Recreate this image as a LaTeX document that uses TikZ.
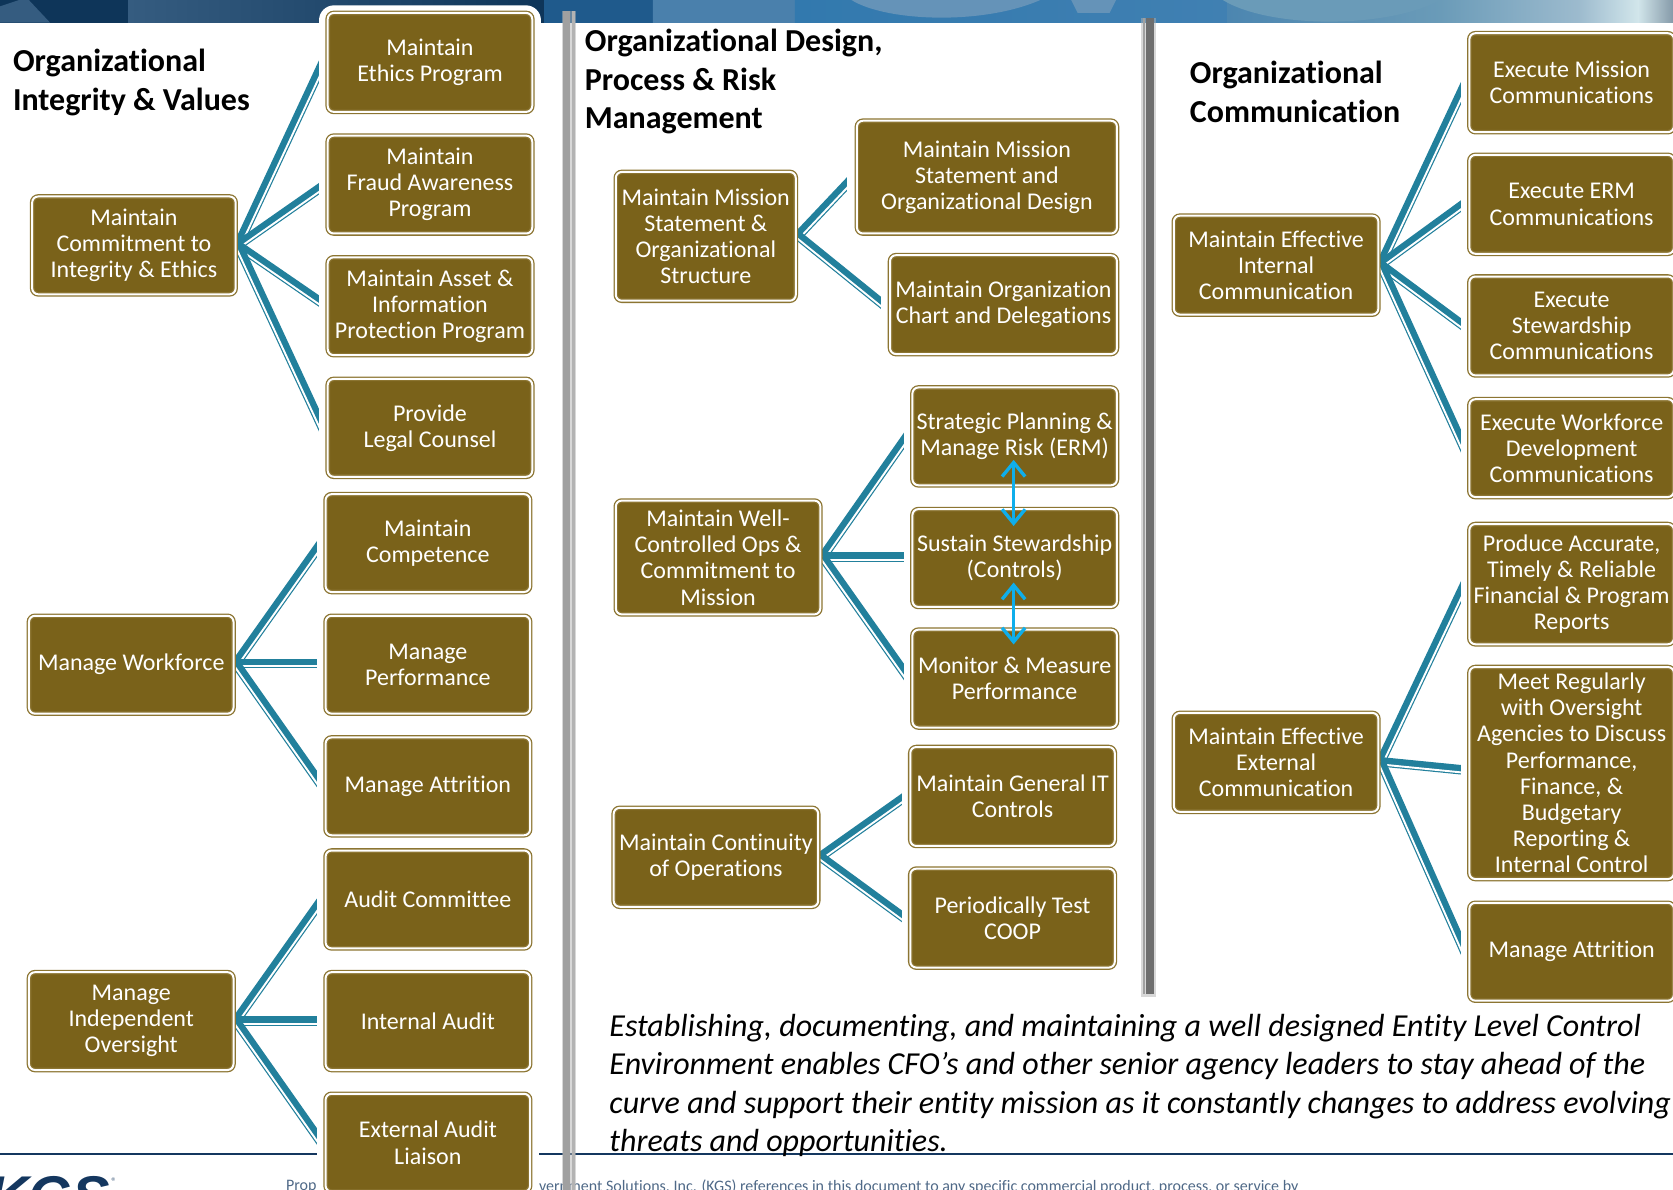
\documentclass[tikz,border=0pt]{standalone}
\usepackage{fontspec}
\setmainfont[Ligatures=NoCommon]{Carlito}
\newfontfamily\logofont{Liberation Sans}
\usetikzlibrary{calc,arrows.meta,shadows}
\definecolor{boxfill}{HTML}{7A621A}
\definecolor{boxedge}{HTML}{8C7532}
\definecolor{linkteal}{HTML}{22809C}
\definecolor{arrowblue}{HTML}{0FAEEB}
\definecolor{footnavy}{HTML}{14375F}
\definecolor{barlight}{HTML}{A0A0A0}
\definecolor{bardark}{HTML}{6E6E6E}
\tikzset{
  x=1.067pt,y=-1.067pt,
  boxnode/.style={draw=boxedge,fill=boxfill,line width=1.3pt,double=white,double distance=2pt,
    rounded corners=6pt,text=white,align=center,inner sep=0pt,
    font=\fontsize{24}{26.2}\selectfont},
  titletext/.style={anchor=north west,align=left,inner sep=0pt,font=\fontsize{32}{38.6}\selectfont\bfseries},
  linkthick/.style={draw=linkteal,line width=9.5pt},
  linkgap/.style={draw=white,line width=1.9pt},
  biarrow/.style={draw=arrowblue,line width=3pt,{Straight Barb[length=14pt,width=23pt,line width=3.4pt]}-{Straight Barb[length=14pt,width=23pt,line width=3.4pt]}},
  maskrect/.style={fill=white,draw=none},
}
\newcommand{\bx}[6]{\node[boxnode,minimum width={(#4-#2)*1.067pt-4.6pt},minimum height={(#5-#3)*1.067pt-4.6pt}] (#1) at ({(#2+#4)/2},{(#3+#5)/2}) {#6};}
\newcommand{\lnk}[4]{%
  \coordinate (#2) at (#3,#4);
  \draw[linkthick] (#1) -- (#2);
  \draw[linkgap] ($(#1)!2.6pt!-90:(#2)$) -- ($(#2)!2.6pt!90:(#1)$);}
\newcommand{\hseg}[4]{\shade[left color=#3,right color=#4,draw=none] (#1,0) rectangle (#2+0.5,21.3);}
\begin{document}
\begin{tikzpicture}
\clip (0,0) rectangle (1568,1114.4);
% header band
\fill[white] (0,0) rectangle (1568,1114.4);
\definecolor{hA}{HTML}{0E3559}\definecolor{hB}{HTML}{355C80}\definecolor{hC}{HTML}{1F5A8C}
\definecolor{hD}{HTML}{4A80AC}\definecolor{hE}{HTML}{3279AE}\definecolor{hF}{HTML}{4080B2}
\definecolor{hG}{HTML}{4C86B0}\definecolor{hH}{HTML}{6A9BB8}\definecolor{hI}{HTML}{9DBBCE}
\definecolor{hJ}{HTML}{D2E6EB}\definecolor{hK}{HTML}{8499A8}
\hseg{0}{120}{hA}{hA}
\hseg{120}{510}{hB}{hA}
\hseg{510}{612}{hC}{hC}
\hseg{612}{745}{hD}{hD}
\hseg{745}{1150}{hE}{hF}
\hseg{1150}{1350}{hG}{hH}
\hseg{1350}{1480}{hH}{hI}
\hseg{1480}{1535}{hI}{hJ}
\hseg{1535}{1568}{hJ}{hK}
\fill[hB] (0,6) -- (18,0) -- (27,0) -- (47,21.3) -- (0,21.3) -- cycle;
\fill[hD!85!white] (798,0) .. controls (830,20) and (920,24) .. (975,0) -- cycle;
\fill[hD!85!white] (1004,0) -- (1046,0) -- (1040,12) -- (1010,12) -- cycle;
\fill[hH] (1146,0) .. controls (1190,27) and (1300,27) .. (1350,0) -- cycle;
% footer
\node[anchor=west,inner sep=0pt,text=footnavy!75!white,font=\fontsize{16}{18}\selectfont] (fa) at (268,1112) {Prop};
\node[anchor=west,inner sep=0pt,text=footnavy!75!white,font=\fontsize{16}{18}\selectfont] (fb) at (505,1112) {vernment Solutions, Inc. (KGS) references in this document to any specific commercial product, process, or service by};
\node[anchor=base east,inner sep=0pt,text=footnavy,font=\logofont\fontsize{56}{56}\selectfont\bfseries\itshape] (logo) at (103,1139) {KGS};
\node[anchor=center,inner sep=0pt,text=footnavy!75!white,font=\fontsize{11}{11}\selectfont] (reg) at (107,1107.5) {®};
\draw[footnavy,line width=1.5pt] (0,1081.5) -- (1568,1081.5);
% source points on the borders of the parent boxes
\coordinate (srcA) at (223,230);
\coordinate (srcB) at (221,622);
\coordinate (srcC) at (221,957);
\coordinate (srcD) at (748,221);
\coordinate (srcE) at (771,522);
\coordinate (srcF) at (769,803);
\coordinate (srcG) at (1294,248);
\coordinate (srcH) at (1294,714);
% connectors
\lnk{srcA}{ea}{306}{52}
\lnk{srcA}{eb}{306}{172}
\lnk{srcA}{ec}{306}{287}
\lnk{srcA}{ed}{306}{409}
\lnk{srcB}{ee}{304}{505}
\lnk{srcB}{ef}{304}{622}
\lnk{srcB}{eg}{304}{740}
\lnk{srcC}{eh}{304}{840}
\lnk{srcC}{ei}{304}{957}
\lnk{srcC}{ej}{304}{1075}
\lnk{srcD}{ek}{800}{166}
\lnk{srcD}{el}{832}{289}
\lnk{srcE}{em}{853}{405}
\lnk{srcE}{en}{853}{522}
\lnk{srcE}{eo}{853}{638}
\lnk{srcF}{ep}{851}{745}
\lnk{srcF}{eq}{851}{863}
\lnk{srcG}{er}{1375}{75}
\lnk{srcG}{es}{1375}{189}
\lnk{srcG}{et}{1375}{308}
\lnk{srcG}{eu}{1375}{426}
\lnk{srcH}{ev}{1375}{543}
\lnk{srcH}{ew}{1375}{722}
\lnk{srcH}{ex}{1375}{897}
% white panels that cut the connectors square
\fill[maskrect,rounded corners=15pt] (299,5) rectangle (507,480);
\fill[maskrect] (299,450) rectangle (505,1120);
\fill[maskrect] (297,455) rectangle (505,1120);
\fill[maskrect] (794,140) rectangle (860,225);
\fill[maskrect] (826,240) rectangle (860,330);
\fill[maskrect] (847,395) rectangle (860,650);
\fill[maskrect] (845,735) rectangle (860,880);
\fill[maskrect] (1369,60) rectangle (1568,950);
% separator bars
\fill[black!30,opacity=.5] (526.5,10) rectangle (540,1120);
\fill[barlight] (528,10) rectangle (534.5,1120);
\fill[barlight!80!white] (536,10) rectangle (538.5,1120);
\fill[black!30,opacity=.5] (1069.5,17) rectangle (1083,934);
\fill[barlight] (1071,17) rectangle (1073,932);
\fill[bardark] (1074.5,17) rectangle (1081.5,932);
% titles
\node[titletext] (t1) at (12,46) {Organizational\\Integrity \& Values};
\node[titletext] (t2) at (548,27) {Organizational Design,\\Process \& Risk\\Management};
\node[titletext] (t3) at (1115,57) {Organizational\\Communication};
% boxes
\bx{b1}{28}{182}{223}{278}{Maintain\\Commitment to\\Integrity \& Ethics}
\bx{b2}{305}{10}{501}{107}{Maintain\\Ethics Program}
\bx{b3}{305}{125}{501}{221}{Maintain\\Fraud Awareness\\Program}
\bx{b4}{305}{239}{501}{335}{Maintain Asset \&\\Information\\Protection Program}
\bx{b5}{305}{353}{501}{449}{Provide\\Legal Counsel}
\bx{b6}{25}{575}{221}{671}{Manage Workforce}
\bx{b7}{303}{461}{499}{557}{Maintain\\Competence}
\bx{b8}{303}{575}{499}{671}{Manage\\Performance}
\bx{b9}{303}{689}{499}{785}{Manage Attrition}
\bx{b10}{25}{909}{221}{1005}{Manage\\Independent\\Oversight}
\bx{b11}{303}{795}{499}{891}{Audit Committee}
\bx{b12}{303}{909}{499}{1005}{Internal Audit}
\bx{b13}{303}{1023}{499}{1119}{External Audit\\Liaison}
\bx{c1}{575}{159}{748}{284}{Maintain Mission\\Statement \&\\Organizational\\Structure}
\bx{c2}{801}{111}{1049}{221}{Maintain Mission\\Statement and\\Organizational Design}
\bx{c3}{832}{237}{1049}{334}{Maintain Organization\\Chart and Delegations}
\bx{c4}{575}{467}{771}{578}{Maintain Well-\\Controlled Ops \&\\Commitment to\\Mission}
\bx{c5}{853}{361}{1049}{457}{Strategic Planning \&\\Manage Risk (ERM)}
\bx{c6}{853}{475}{1049}{571}{Sustain Stewardship\\(Controls)}
\bx{c7}{853}{588}{1049}{684}{Monitor \& Measure\\Performance}
\bx{c8}{573}{755}{769}{852}{Maintain Continuity\\of Operations}
\bx{c9}{851}{698}{1047}{795}{Maintain General IT\\Controls}
\bx{c10}{851}{812}{1047}{909}{Periodically Test\\COOP}
\bx{d1}{1098}{200}{1294}{297}{Maintain Effective\\Internal\\Communication}
\bx{d2}{1375}{29}{1571}{126}{Execute Mission\\Communications}
\bx{d3}{1375}{143}{1571}{240}{Execute ERM\\Communications}
\bx{d4}{1375}{257}{1571}{354}{Execute\\Stewardship\\Communications}
\bx{d5}{1375}{372}{1571}{468}{Execute Workforce\\Development\\Communications}
\bx{d6}{1098}{666}{1294}{763}{Maintain Effective\\External\\Communication}
\bx{d7}{1375}{489}{1571}{606}{Produce Accurate,\\Timely \& Reliable\\Financial \& Program\\Reports}
\bx{d8}{1375}{623}{1571}{826}{Meet Regularly\\with Oversight\\Agencies to Discuss\\Performance,\\Finance, \&\\Budgetary\\Reporting \&\\Internal Control}
\bx{d9}{1375}{844}{1571}{940}{Manage Attrition}
% blue arrows
\coordinate (ar1) at (950,431); \coordinate (ar2) at (950,493);
\coordinate (ar3) at (950,546); \coordinate (ar4) at (950,604);
\draw[biarrow] (ar1) -- (ar2);
\draw[biarrow] (ar3) -- (ar4);
% statement
\node[anchor=north west,inner sep=0pt,align=left,font=\fontsize{32}{38.6}\selectfont\itshape] (note) at (571,950) {Establishing, documenting, and maintaining a well designed Entity Level Control\\Environment enables CFO’s and other senior agency leaders to stay ahead of the\\curve and support their entity mission as it constantly changes to address evolving\\threats and opportunities.};
\end{tikzpicture}
\end{document}
